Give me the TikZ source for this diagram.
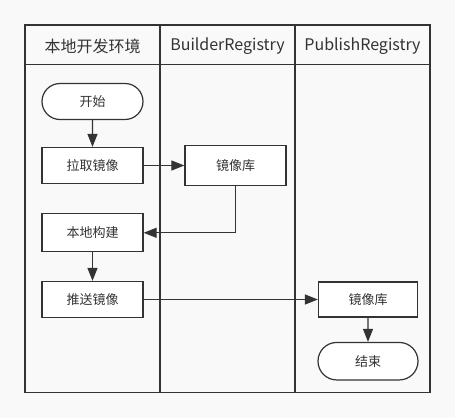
\documentclass[tikz,border=0pt]{standalone}
\usepackage{fontspec}
\setmainfont{Noto Sans CJK SC}
\usetikzlibrary{arrows.meta,shapes.misc}
\definecolor{bg}{HTML}{F9F9F9}
\definecolor{ink}{HTML}{333333}
\tikzset{
  lane/.style={draw=ink,line width=1.4pt},
  stepbox/.style={draw=ink,fill=white,line width=1.2pt,rectangle,minimum width=101pt,minimum height=36pt,inner sep=0pt,font=\fontsize{13pt}{15pt}\selectfont,text=ink},
  termbox/.style={stepbox,rounded rectangle},
  hdr/.style={font=\fontsize{16pt}{19pt}\selectfont,text=ink,inner sep=0pt},
  arr/.style={draw=ink,line width=1.1pt,-{Triangle[length=13pt,width=10pt]}}
}
\begin{document}
\begin{tikzpicture}[x=1pt,y=-1pt]
\fill[bg] (0,0) rectangle (455,418);
\useasboundingbox (0,0) rectangle (455,418);
% lanes
\draw[lane] (25,25) rectangle (430,392.5);
\draw[lane] (25,64.5) -- (430,64.5);
\draw[lane] (160,25) -- (160,392.5);
\draw[lane] (295,25) -- (295,392.5);
\node[hdr] (h1) at (92.5,46) {本地开发环境};
\node[hdr] (h2) at (227.5,46) {BuilderRegistry};
\node[hdr] (h3) at (362.5,46) {PublishRegistry};
% nodes
\node[termbox] (start) at (92.5,101.5) {开始};
\node[stepbox] (pull) at (92.5,165.5) {拉取镜像};
\node[stepbox,minimum height=40pt] (repo1) at (235.5,165.5) {镜像库};
\node[stepbox,minimum height=38pt] (build) at (92.5,232.8) {本地构建};
\node[stepbox] (push) at (92.5,299.5) {推送镜像};
\node[stepbox,minimum width=99pt,minimum height=35pt] (repo2) at (368,299.5) {镜像库};
\node[termbox,minimum width=100pt,minimum height=37.5pt] (end) at (368,361.2) {结束};
% connectors
\draw[arr] (start) -- (pull);
\draw[arr] (pull.east) -- (repo1.west);
\draw[arr] (repo1.south) |- (build.east);
\draw[arr] (build) -- (push);
\draw[arr] (push.east) -- (repo2.west);
\draw[arr] (repo2) -- (end);
\end{tikzpicture}
\end{document}
